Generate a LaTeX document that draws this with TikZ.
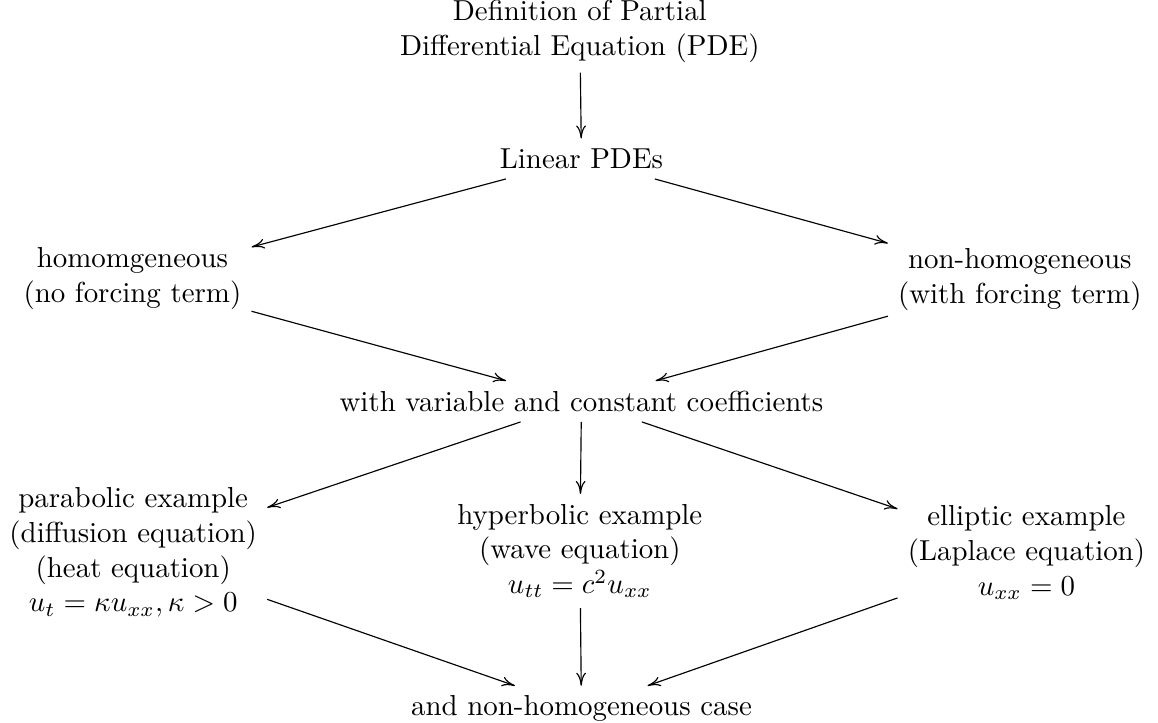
\documentclass[tikz,border=0pt]{standalone}
\usepackage{amsmath}
\usepackage{amssymb}
\usepackage{tikz}
\usetikzlibrary{arrows}
\usetikzlibrary{arrows.meta}
\usetikzlibrary{positioning}
\tikzset{>={To[length=4.5pt, width=3.4pt]}}
\tikzstyle{txt} = [draw=none, align=center]

\begin{document}
\begin{tikzpicture}
\useasboundingbox (0, 0) rectangle (14.08, -8.78);
%\node [draw=none, font=\small] at (7, 0) {PDE};
\node [txt] (D) at (7.05, -0.38) {Definition of Partial\\Differential Equation (PDE)};
\node [txt] (L) at (7.07, -1.93) {Linear PDEs};
\node [txt] (H) at (1.61, -3.39) {homomgeneous\\(no forcing term)};
\node [txt] (N) at (12.40, -3.40) {non-homogeneous\\(with forcing term)};
\node [txt] (C) at (7.07, -4.88) {with variable and constant coefficients};
\node [txt] (P) at (1.62, -6.72) {parabolic example\\(diffusion equation)\\(heat equation)\\$u_t = \kappa u_{xx}, \kappa > 0$};
\node [txt] (Hy) at (7.05, -6.70) {hyperbolic example\\(wave equation)\\$u_{tt} = c^2 u_{xx}$};
\node [txt] (E) at (12.48, -6.72) {elliptic example\\(Laplace equation)\\$u_{xx} = 0$};
\node [txt] (B) at (7.07, -8.62) {and non-homogeneous case};
\draw [->] (D) to (L);
\draw [->] (L) to (H);
\draw [->] (L) to (N);
\draw [->] (H) to (C);
\draw [->] (N) to (C);
\draw [->] (C) to (P);
\draw [->] (C) to (Hy);
\draw [->] (C) to (E);
\draw [->] (P) to (B);
\draw [->] (Hy) to (B);
\draw [->] (E) to (B);
\end{tikzpicture}
\end{document}
